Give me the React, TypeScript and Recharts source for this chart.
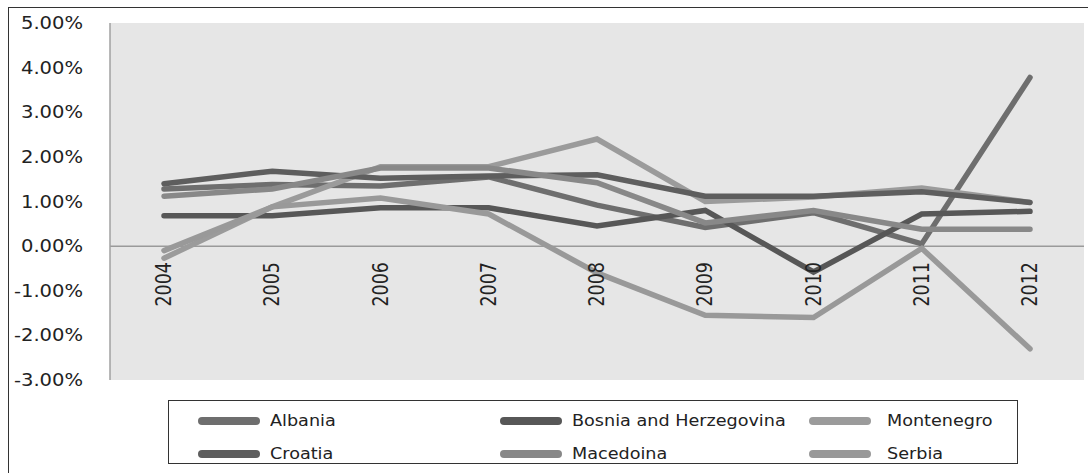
import React from 'react'
import { LineChart, Line, XAxis, YAxis, CartesianGrid, ReferenceLine } from 'recharts'

const years = ['2004', '2005', '2006', '2007', '2008', '2009', '2010', '2011', '2012']
const albania = [1.28, 1.38, 1.35, 1.55, 0.92, 0.42, 0.75, 0.05, 3.78]
const bosnia = [0.68, 0.68, 0.86, 0.86, 0.45, 0.8, -0.58, 0.72, 0.78]
const montenegro = [-0.27, 0.88, 1.78, 1.78, 2.4, 1.0, 1.1, 1.3, 0.98]
const croatia = [1.4, 1.68, 1.52, 1.57, 1.6, 1.12, 1.12, 1.22, 0.98]
const macedoina = [1.12, 1.28, 1.75, 1.75, 1.42, 0.52, 0.8, 0.38, 0.38]
const serbia = [-0.1, 0.88, 1.08, 0.72, -0.6, -1.55, -1.6, -0.05, -2.3]
const yTicks = [-3, -2, -1, 0, 1, 2, 3, 4, 5]

// legend reads row by row, like the original
const series = [
  { key: 'albania', name: 'Albania', values: albania, color: '#6e6e6e' },
  { key: 'bosnia', name: 'Bosnia and Herzegovina', values: bosnia, color: '#575757' },
  { key: 'montenegro', name: 'Montenegro', values: montenegro, color: '#9b9b9b' },
  { key: 'croatia', name: 'Croatia', values: croatia, color: '#5e5e5e' },
  { key: 'macedoina', name: 'Macedoina', values: macedoina, color: '#888888' },
  { key: 'serbia', name: 'Serbia', values: serbia, color: '#999999' },
]

const data = years.map((year, i) => {
  const row: Record<string, any> = { year }
  series.forEach((s) => {
    row[s.key] = s.values[i]
  })
  return row
})

const FONT = '"DejaVu Sans", Verdana, sans-serif'

const YTick = ({ x, y, payload }: any) => (
  <g transform={`translate(${x},${y}) scale(1.15,1)`}>
    <text x={0} y={0} textAnchor="end" dominantBaseline="central" fontFamily={FONT} fontSize={17} fill="#222">
      {Number(payload.value).toFixed(2)}%
    </text>
  </g>
)

// year labels sit just under the zero line, rotated
const XTick = ({ x, y, payload }: any) => (
  <g transform={`translate(${x},${y - 118}) scale(1.2,1) rotate(-90)`}>
    <text x={0} y={0} textAnchor="end" dominantBaseline="central" fontFamily={FONT} fontSize={17.5} fill="#222">
      {payload.value}
    </text>
  </g>
)

const legendCols = [29, 331, 640]

function LegendBox() {
  return (
    <div
      style={{
        position: 'absolute',
        left: 168,
        top: 400,
        width: 850,
        height: 64,
        border: '1.5px solid #333',
        boxSizing: 'border-box',
        fontFamily: FONT,
        fontSize: 16,
        color: '#222',
      }}
    >
      {series.map((s, i) => {
        const col = i % 3
        const row = Math.floor(i / 3)
        return (
          <div
            key={s.key}
            style={{
              position: 'absolute',
              left: legendCols[col],
              top: row === 0 ? 10 : 43,
              display: 'flex',
              alignItems: 'center',
              whiteSpace: 'nowrap',
            }}
          >
            <div style={{ width: 62, height: 8, borderRadius: 4, background: s.color }} />
            <span
              style={{
                marginLeft: col === 2 ? 16 : 10,
                display: 'inline-block',
                transform: 'scaleX(1.1)',
                transformOrigin: 'left center',
              }}
            >
              {s.name}
            </span>
          </div>
        )
      })}
    </div>
  )
}

export default function App() {
  return (
    <div style={{ position: 'fixed', left: 0, top: 0, width: 1088, height: 473, overflow: 'hidden', background: '#fff' }}>
      <div
        style={{
          position: 'absolute',
          left: 8,
          top: 7,
          width: 1100,
          height: 480,
          border: '1.5px solid #333',
        }}
      />
      <div style={{ position: 'absolute', left: 0, top: 0 }}>
        <LineChart width={1088} height={473} data={data} margin={{ top: 23, right: 4, bottom: 63, left: 0 }}>
          <CartesianGrid horizontal={false} vertical={false} fill="#e6e6e6" />
          <XAxis
            dataKey="year"
            height={30}
            axisLine={false}
            tickLine={false}
            tickSize={0}
            tickMargin={0}
            interval={0}
            padding={{ left: 54, right: 54 }}
            tick={<XTick />}
          />
          <YAxis
            width={110}
            domain={[-3, 5]}
            ticks={yTicks}
            interval={0}
            axisLine={{ stroke: '#a0a0a0', strokeWidth: 1.5 }}
            tickLine={false}
            tickSize={0}
            tickMargin={27}
            tick={<YTick />}
          />
          <ReferenceLine y={0} stroke="#9a9a9a" strokeWidth={1.5} />
          {series.map((s) => (
            <Line
              key={s.key}
              type="linear"
              dataKey={s.key}
              name={s.name}
              stroke={s.color}
              strokeWidth={5.5}
              strokeLinecap="round"
              dot={false}
              activeDot={false}
              isAnimationActive={false}
            />
          ))}
        </LineChart>
      </div>
      <LegendBox />
    </div>
  )
}
